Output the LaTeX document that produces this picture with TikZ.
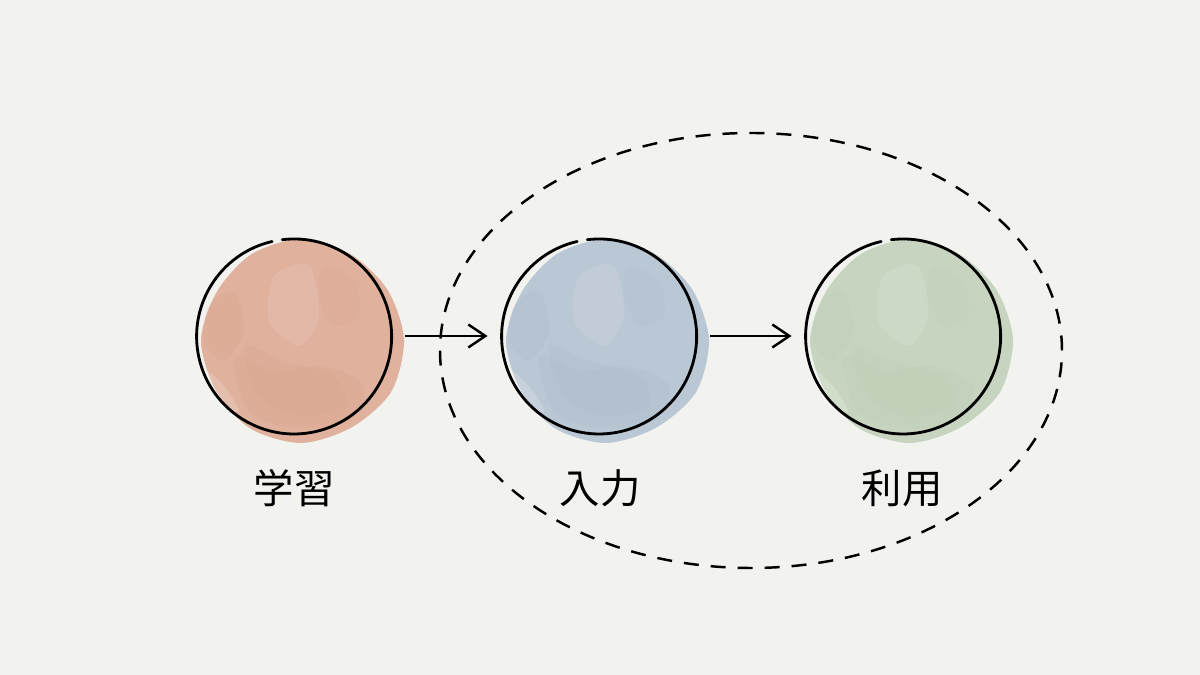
\documentclass[tikz,border=0pt]{standalone}
\usepackage{fontspec}
\newfontfamily\cjk{Noto Sans CJK JP}
\usetikzlibrary{arrows.meta}
\definecolor{paper}{RGB}{242,242,238}
\definecolor{peach}{RGB}{224,177,157}
\definecolor{peachdeep}{RGB}{208,152,128}
\definecolor{slate}{RGB}{186,199,212}
\definecolor{slatedeep}{RGB}{160,178,196}
\definecolor{sage}{RGB}{199,213,192}
\definecolor{sagedeep}{RGB}{176,196,168}

\begin{document}
\begin{tikzpicture}[
    x = 0.02cm,
    y = 0.02cm,
    >={Straight Barb[length=3.4mm, width=4.6mm]},
    ball/.style = {circle, minimum size=3.9cm, inner sep=0pt, outer sep=0.28cm},
    ring/.style = {black, line width=1.6pt, line cap=round},
    link/.style = {->, black, line width=1.4pt},
    tag/.style = {font=\cjk\fontsize{23}{28}\selectfont},
    group/.style = {black, line width=1.4pt, dash pattern=on 0.3cm off 0.24cm},
    ]

\fill[paper] (0,0) rectangle (1200,675);
\useasboundingbox (0,0) rectangle (1200,675);

\node[ball] (ball_1) at (294,339){};
\node[ball] (ball_2) at (599,339){};
\node[ball] (ball_3) at (903,339){};

% watercolour washes
\foreach \b/\ink/\deep in {ball_1/peach/peachdeep, ball_2/slate/slatedeep, ball_3/sage/sagedeep}
{
\fill[\ink, shift={(\b.center)}, xshift=0.14cm, yshift=-0.08cm] plot[smooth cycle] coordinates
    {(0:103) (30:100) (60:99) (90:101) (120:99) (150:97) (180:100) (210:99) (240:102) (270:103) (300:101) (330:104)};
\fill[\deep, opacity=0.15, shift={(\b.center)}] plot[smooth cycle] coordinates
    {(-60,-20) (-20,-35) (30,-30) (70,-50) (55,-85) (0,-92) (-45,-75)};
\fill[\deep, opacity=0.12, shift={(\b.center)}] plot[smooth cycle] coordinates
    {(-50,-10) (-10,-25) (40,-40) (50,-70) (5,-80) (-35,-60)};
\fill[\deep, opacity=0.15, shift={(\b.center)}] plot[smooth cycle] coordinates
    {(-85,30) (-60,45) (-50,5) (-70,-25) (-90,-5)};
\fill[\deep, opacity=0.1, shift={(\b.center)}] plot[smooth cycle] coordinates
    {(30,70) (60,55) (65,20) (40,10) (25,40)};
\fill[white, opacity=0.1, shift={(\b.center)}] plot[smooth cycle] coordinates
    {(-20,60) (15,70) (25,20) (5,-10) (-25,15)};
\fill[white, opacity=0.18, shift={(\b.center)}] plot[smooth cycle] coordinates
    {(-88,-35) (-70,-50) (-55,-75) (-75,-70)};
\draw[ring] ([shift={(103:97)}]\b.center) arc[start angle=103, end angle=457, radius=97.5];
}

\draw[link] (ball_1) -- (ball_2);
\draw[link] (ball_2) -- (ball_3);

\node[tag] (tag_1) at (294,187){学習};
\node[tag] (tag_2) at (600,187){入力};
\node[tag] (tag_3) at (902,187){利用};

\draw[group] (751,324.5) ellipse [x radius=311, y radius=217.5];

\end{tikzpicture}
\end{document}
